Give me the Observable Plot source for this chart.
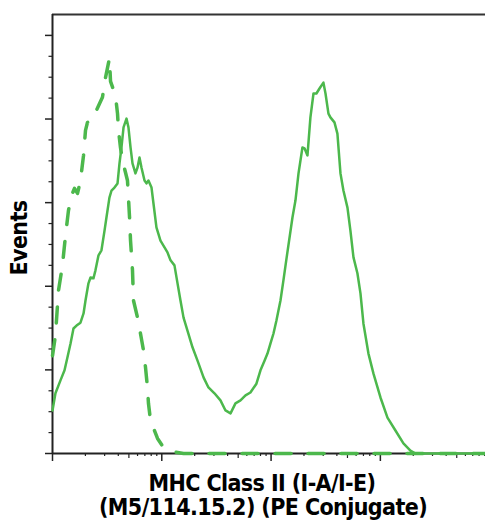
<!DOCTYPE html>
<html>
<head>
<meta charset="utf-8">
<script src="https://cdn.jsdelivr.net/npm/d3@7"></script>
<script src="https://cdn.jsdelivr.net/npm/@observablehq/plot@0.6"></script>
<style>
  html, body { margin: 0; padding: 0; background: #fff; }
  #chart text { letter-spacing: -0.6px; }
</style>
</head>
<body>
<div id="chart"></div>
<script>
// x readings are log10 of fluorescence intensity, y readings are events (arbitrary units)
const stainedLogX = [0,0.027,0.073,0.110,0.137,0.165,0.192,0.220,0.256,0.284,0.302,0.329,0.348,0.375,0.393,0.421,0.448,0.476,0.494,0.521,0.540,0.567,0.595,0.613,0.631,0.650,0.677,0.695,0.714,0.732,0.759,0.778,0.796,0.814,0.842,0.860,0.878,0.906,0.924,0.951,0.988,1.025,1.052,1.080,1.116,1.144,1.171,1.199,1.235,1.281,1.327,1.382,1.427,1.482,1.537,1.583,1.629,1.674,1.720,1.766,1.811,1.866,1.903,1.940,1.967,1.994,2.022,2.049,2.086,2.113,2.141,2.196,2.223,2.251,2.287,2.306,2.333,2.360,2.388,2.415,2.443,2.479,2.498,2.525,2.543,2.580,2.607,2.635,2.662,2.699,2.726,2.754,2.790,2.818,2.845,2.891,2.937,3.001,3.065,3.138,3.211,3.275,3.321,3.962];
const stainedY = [10.3,14.4,17.5,19.9,23.0,26.3,29.9,30.6,31.3,33.5,36.6,40.7,42.1,41.9,43.8,47.4,48.6,53.3,56.5,61.2,62.9,63.6,64.6,69.4,73.2,78.0,80.1,78.0,73.2,69.4,67.0,68.4,70.8,68.4,65.3,64.6,65.3,63.6,59.8,54.1,50.9,49.3,48.1,46.2,45.0,40.7,36.6,32.5,29.4,25.4,22.2,18.2,15.8,14.4,12.7,10.3,9.6,12.0,12.7,13.9,14.6,16.7,19.9,22.2,23.9,26.3,28.7,31.8,36.6,41.4,46.6,56.5,60.5,67.0,73.2,73.0,71.3,80.4,86.1,86.1,87.3,88.7,86.1,81.3,80.4,79.2,76.5,67.0,62.9,58.8,53.3,46.9,43.1,38.3,31.1,23.9,19.1,13.4,8.6,5.5,2.4,0.7,0,0];

const controlLogX = [0,0.027,0.055,0.091,0.119,0.146,0.174,0.201,0.229,0.256,0.284,0.302,0.320,0.348,0.393,0.457,0.485,0.521,0.531,0.576,0.595,0.604,0.622,0.640,0.668,0.686,0.695,0.705,0.714,0.732,0.741,0.778,0.805,0.833,0.851,0.869,0.878,0.897,0.961,1.016,1.080,1.199,3.962];
const controlY = [23.4,28.2,39.0,45.0,52.1,58.1,61.7,63.4,62.2,65.3,71.3,77.3,79.2,79.4,81.6,85.2,89.9,94.5,89.0,85.6,81.3,77.3,73.2,70.1,67.2,65.3,61.2,56.5,50.9,43.8,36.6,32.5,28.7,24.6,20.6,15.8,12.0,7.9,3.6,1.4,0.5,0,0];

const xMajorTicks = [1, 10, 100, 1000];
const xMidTicks = [5, 50, 500, 5000];
const xMinorTicks = [2,3,4,6,7,8,9,20,30,40,60,70,80,90,200,300,400,600,700,800,900,2000,3000,4000,6000,7000,8000,9000];
const yMajorTicks = [0, 20, 40, 60, 80, 100];
const yMinorTicks = [5,10,15,25,30,35,45,50,55,65,70,75,85,90,95];

const xLabelLines = ["MHC Class II (I-A/I-E)", "(M5/114.15.2) (PE Conjugate)"];
const yLabel = "Events";

const stained = stainedLogX.map((lx, i) => ({lx, y: stainedY[i]}));
const control = controlLogX.map((lx, i) => ({lx, y: controlY[i]}));

const green = "#4cb84c";
const axisColor = "#222";
const font = "'Liberation Sans Narrow', 'DejaVu Sans Condensed', 'Arial Narrow', sans-serif";
const xMax = 10 ** 3.962;
const yMax = 105;

const chart = Plot.plot({
  width: 485,
  height: 523,
  marginLeft: 52,
  marginRight: 0,
  marginTop: 14,
  marginBottom: 70,
  style: {fontFamily: font, background: "#fff"},
  x: {type: "log", domain: [1, xMax], axis: null},
  y: {domain: [0, yMax], axis: null},
  marks: [
    Plot.axisX(xMajorTicks, {tickSize: 8, tickFormat: () => "", label: null, stroke: axisColor, strokeWidth: 1.5}),
    Plot.axisX(xMidTicks, {tickSize: 5, tickFormat: () => "", label: null, stroke: axisColor, strokeWidth: 1.2}),
    Plot.axisX(xMinorTicks, {tickSize: 3, tickFormat: () => "", label: null, stroke: axisColor, strokeWidth: 1.2}),
    Plot.axisY(yMajorTicks, {tickSize: 7, tickFormat: () => "", label: null, stroke: axisColor, strokeWidth: 1.5}),
    Plot.axisY(yMinorTicks, {tickSize: 3.5, tickFormat: () => "", label: null, stroke: axisColor, strokeWidth: 1.2}),
    Plot.ruleY([yMax], {stroke: "#333", strokeWidth: 2}),
    Plot.ruleY([0], {stroke: axisColor, strokeWidth: 2}),
    Plot.ruleX([1], {stroke: axisColor, strokeWidth: 2}),
    Plot.line(control, {x: d => 10 ** d.lx, y: "y", stroke: green, strokeWidth: 3.5, strokeDasharray: "16,17", curve: "linear"}),
    Plot.line(stained, {x: d => 10 ** d.lx, y: "y", stroke: green, strokeWidth: 2.5, curve: "linear"}),
    Plot.text([yLabel], {frameAnchor: "left", rotate: -90, dx: -33, dy: 4, text: d => d, fontSize: 23, fontWeight: "bold", fill: "#000", textAnchor: "middle"}),
    Plot.text([xLabelLines[0]], {frameAnchor: "bottom", lineAnchor: "top", dx: -7, dy: 21, text: d => d, fontSize: 23, fontWeight: "bold", fill: "#000", textAnchor: "middle"}),
    Plot.text([xLabelLines[1]], {frameAnchor: "bottom", lineAnchor: "top", dx: -6, dy: 45, text: d => d, fontSize: 23, fontWeight: "bold", fill: "#000", textAnchor: "middle"})
  ]
});
document.getElementById("chart").appendChild(chart);
</script>
</body>
</html>
